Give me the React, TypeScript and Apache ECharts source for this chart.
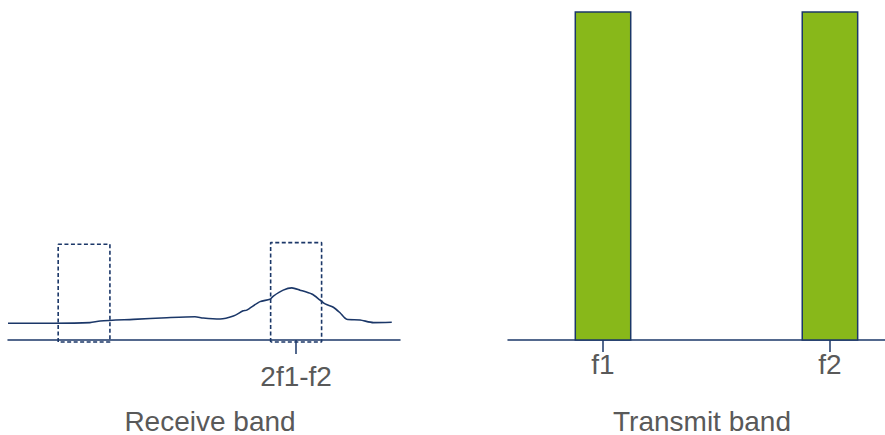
import React, { useEffect, useRef } from "react";
import * as echarts from "echarts";

// Receive band: measured noise / intermod floor (frequency units 0..100, level units 0..100)
const curveFreq = [0, 11.6, 20.9, 23.5, 32.0, 40.5, 47.7, 49.8, 54.1, 57.5, 60.0, 60.9, 64.3, 66.8, 67.7, 70.2, 72.4, 74.5, 77.5, 79.6, 80.9, 83.0, 84.7, 86.4, 89.8, 93.2, 97.9];
const curveLevel = [5.1, 5.1, 5.3, 5.8, 6.3, 6.8, 7.1, 6.7, 6.4, 7.3, 8.9, 9.1, 11.7, 12.4, 13.4, 15.2, 15.9, 15.2, 14.0, 12.2, 11.0, 10.0, 8.3, 6.3, 6.1, 5.3, 5.4];

// Receive channels (dashed boxes)
const boxStart = [12.8, 67.0];
const boxEnd = [26.0, 80.0];
const boxTop = [29.2, 29.7];
const boxBottom = -0.6;

// Intermodulation product label on receive band
const imdLabels = ["2f1-f2"];
const imdFreq = [73.5];

// Transmit band carriers
const carrierLabels = ["f1", "f2"];
const carrierFreq = [25.2, 85.4];
const carrierLevel = [100, 100];
const carrierWidth = 14.7;

// Band titles
const bandTitles = ["Receive band", "Transmit band"];

const NAVY = "#1b3768";
const GREEN = "#88b81a";
const GREY = "#595959";
const FONT = "Liberation Sans, Arial, sans-serif";
const FS = 28;

export default function App() {
  const ref = useRef<HTMLDivElement>(null);
  useEffect(() => {
    const chart = echarts.init(ref.current!, null, { renderer: "svg" });

    const boxSeries = boxStart.map((s, i) => ({
      type: "line",
      xAxisIndex: 0,
      yAxisIndex: 0,
      symbol: "none",
      clip: false,
      silent: true,
      data: [
        [s, boxBottom],
        [s, boxTop[i]],
        [boxEnd[i], boxTop[i]],
        [boxEnd[i], boxBottom],
        [s, boxBottom],
      ],
      lineStyle: { color: NAVY, width: 1.6, type: [4, 2.5] },
    }));

    const labelFrom = (vals: number[], names: string[]) => (v: number) => {
      const i = vals.findIndex((f) => Math.abs(f - v) < 1e-6);
      return i >= 0 ? names[i] : "";
    };

    const titleX = [210, 702];

    chart.setOption({
      animation: false,
      grid: [
        { left: 8, width: 392, top: 12, height: 328, outerBoundsMode: "none" },
        { left: 508, width: 377, top: 12, height: 328, outerBoundsMode: "none" },
      ],
      xAxis: [
        {
          type: "value",
          gridIndex: 0,
          min: 0,
          max: 100,
          splitLine: { show: false },
          axisLine: { lineStyle: { color: NAVY, width: 1.5 } },
          axisTick: { show: true, customValues: imdFreq, length: 14, lineStyle: { color: NAVY, width: 1.5 } },
          axisLabel: {
            customValues: imdFreq,
            formatter: labelFrom(imdFreq, imdLabels),
            fontSize: FS,
            color: GREY,
            fontFamily: FONT,
            margin: 22,
          },
        },
        {
          type: "value",
          gridIndex: 1,
          min: 0,
          max: 100,
          splitLine: { show: false },
          axisLine: { lineStyle: { color: NAVY, width: 1.5 } },
          axisTick: { show: true, customValues: carrierFreq, length: 12, lineStyle: { color: NAVY, width: 1.5 } },
          axisLabel: {
            customValues: carrierFreq,
            formatter: labelFrom(carrierFreq, carrierLabels),
            fontSize: FS,
            color: GREY,
            fontFamily: FONT,
            margin: 10,
          },
        },
      ],
      yAxis: [
        { type: "value", gridIndex: 0, min: 0, max: 100, show: false },
        { type: "value", gridIndex: 1, min: 0, max: 100, show: false },
      ],
      graphic: bandTitles.map((t, i) => ({
        type: "text",
        x: titleX[i],
        y: 421,
        style: {
          text: t,
          fill: GREY,
          fontSize: FS,
          fontFamily: FONT,
          lineHeight: 26,
          align: "center",
          verticalAlign: "middle",
        },
      })),
      series: [
        {
          type: "line",
          xAxisIndex: 0,
          yAxisIndex: 0,
          symbol: "none",
          smooth: 0.25,
          data: curveFreq.map((f, i) => [f, curveLevel[i]]),
          lineStyle: { color: NAVY, width: 1.6 },
        },
        ...boxSeries,
        {
          type: "custom",
          xAxisIndex: 1,
          yAxisIndex: 1,
          data: carrierFreq.map((f, i) => [f, carrierLevel[i]]),
          renderItem: (params: any, api: any) => {
            const c = api.value(0);
            const h = api.value(1);
            const p0 = api.coord([c - carrierWidth / 2, h]);
            const p1 = api.coord([c + carrierWidth / 2, 0]);
            return {
              type: "rect",
              shape: { x: p0[0], y: p0[1], width: p1[0] - p0[0], height: p1[1] - p0[1] },
              style: { fill: GREEN, stroke: NAVY, lineWidth: 1.5 },
            };
          },
        },
      ],
    });
    return () => chart.dispose();
  }, []);
  return (
    <div
      ref={ref}
      style={{ position: "fixed", left: 0, top: 0, width: 885, height: 435, background: "#fff" }}
    />
  );
}
